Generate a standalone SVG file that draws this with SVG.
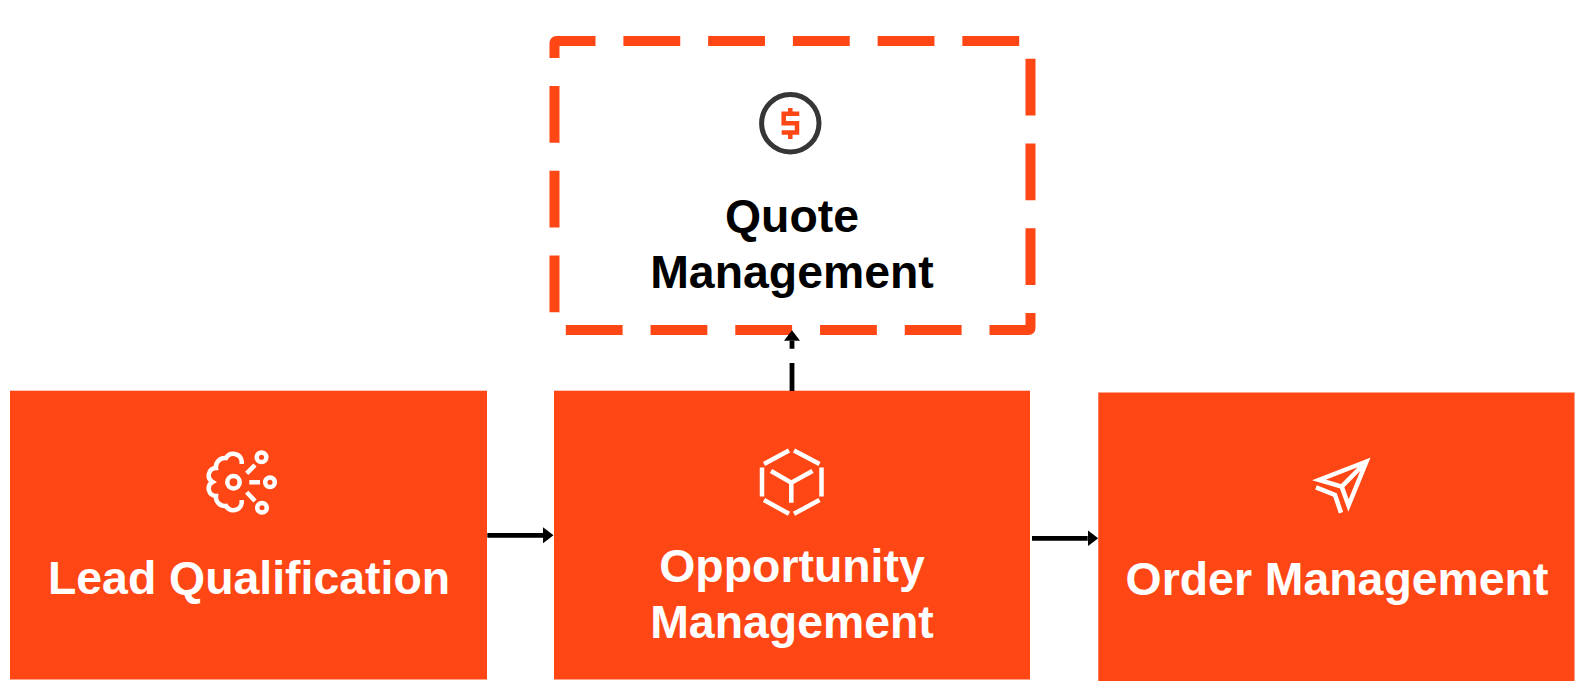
<svg xmlns="http://www.w3.org/2000/svg" width="1582" height="690" viewBox="0 0 1582 690">
<defs>
<marker id="ah" markerUnits="userSpaceOnUse" markerWidth="11" markerHeight="16" refX="0" refY="8" orient="auto"><path d="M0 0L10.5 8L0 16Z" fill="#000"/></marker>
</defs>
<style>
.box{fill:#ff4716}
.lbl{font-family:"Liberation Sans",Arial,sans-serif;font-weight:700;font-size:46.4px;text-anchor:middle;fill:#fff}
.lbl.blk{fill:#000}
.ic{fill:none;stroke:#fff;stroke-width:4.5}
.cn{fill:none;stroke:#000;stroke-width:4.8}
</style>
<rect width="1582" height="690" fill="#fff"/>
<g id="quote-management">
<path d="M554.5 58V43Q554.5 41 556.5 41H1028.5Q1030.5 41 1030.5 43V328Q1030.5 330 1028.5 330H556.5Q554.5 330 554.5 328Z" pathLength="1530" fill="none" stroke="#ff4716" stroke-width="10" stroke-dasharray="57 28"/>
<circle cx="790.3" cy="123.3" r="28.7" fill="none" stroke="#363636" stroke-width="5"/>
<path d="M799.3 113.7H783.7V123.3H797V132.5H781.7M790.3 108V113.7M790.3 132.5V139" fill="none" stroke="#ff4716" stroke-width="4.5"/>
<text class="lbl blk" x="792" y="232">Quote</text>
<text class="lbl blk" x="792" y="288">Management</text>
</g>
<g id="lead-qualification">
<rect class="box" x="10" y="390.7" width="477" height="288.8"/>
<g class="ic">
<circle cx="233.5" cy="482.3" r="6.2"/>
<circle cx="261.5" cy="457.3" r="4.8"/>
<circle cx="270" cy="482.3" r="4.8"/>
<circle cx="262" cy="507.7" r="4.8"/>
<path d="M246.7 473.3L255 465M249.3 482.3H260M246.7 492.3L255 501"/>
<path d="M241.7 464V461A8.5 8.5 0 0 0 226 458A9 9 0 0 0 216 468A7.5 7.5 0 0 0 212.5 482A7.5 7.5 0 0 0 216 496A9 9 0 0 0 226 506A8.5 8.5 0 0 0 241.7 503V500"/>
</g>
<text class="lbl" x="249" y="594">Lead Qualification</text>
</g>
<g id="opportunity-management">
<rect class="box" x="554" y="390.7" width="476" height="288.8"/>
<g class="ic">
<path d="M764 464L789 450.5M794 450.5L819.5 464M762 467.5V496.5M821.5 467.5V496.5M764 500L789 513.8M794 513.8L819.5 500M771 471L791.3 482.7L812.5 471M791.3 482.7V502.7"/>
</g>
<text class="lbl" x="792" y="582">Opportunity</text>
<text class="lbl" x="792" y="638">Management</text>
</g>
<g id="order-management">
<rect class="box" x="1098.3" y="392.5" width="476.2" height="288.5"/>
<g class="ic">
<path d="M1366.5 461.5L1319 480L1341.7 486.7L1348.5 505.5ZM1341.7 486.7L1362 466M1316 487.3L1335 495L1341 512.7"/>
</g>
<text class="lbl" x="1337" y="595">Order Management</text>
</g>
<g id="connectors">
<path class="cn" d="M487.3 535.3H543" marker-end="url(#ah)"/>
<path class="cn" d="M1032 538.3H1087.7" marker-end="url(#ah)"/>
<path class="cn" d="M792 391V340.7" stroke-dasharray="28 14.3" marker-end="url(#ah)"/>
</g>
</svg>
